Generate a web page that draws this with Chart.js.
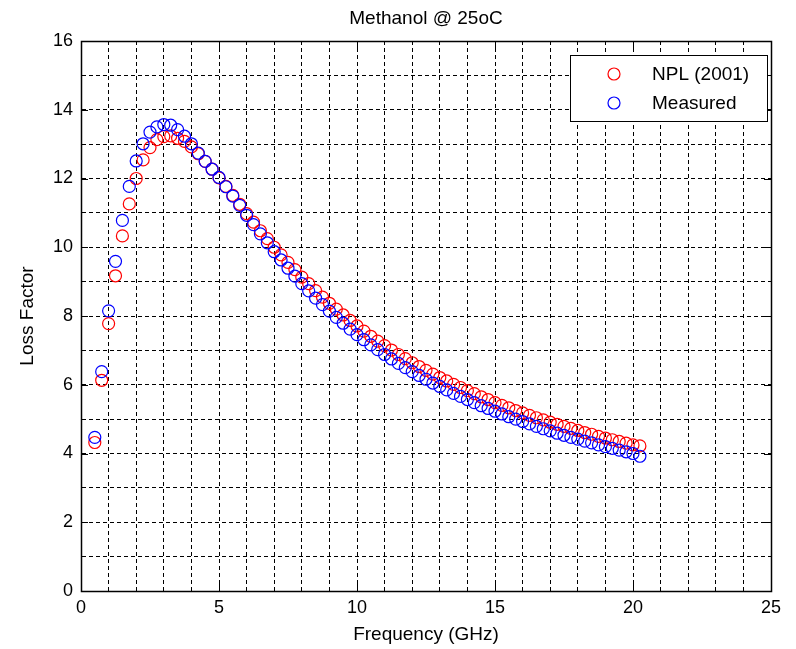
<!DOCTYPE html>
<html>
<head>
<meta charset="utf-8">
<script src="https://cdn.jsdelivr.net/npm/chart.js@4.4.1/dist/chart.umd.min.js"></script>
<style>
  html, body { margin: 0; padding: 0; background: #fff; }
</style>
</head>
<body>
<canvas id="chart" width="796" height="649"></canvas>
<script>
// frequency (GHz)
const freq = [
  0.5, 0.75, 1, 1.25, 1.5, 1.75, 2, 2.25, 2.5, 2.75,
  3, 3.25, 3.5, 3.75, 4, 4.25, 4.5, 4.75, 5, 5.25,
  5.5, 5.75, 6, 6.25, 6.5, 6.75, 7, 7.25, 7.5, 7.75,
  8, 8.25, 8.5, 8.75, 9, 9.25, 9.5, 9.75, 10, 10.25,
  10.5, 10.75, 11, 11.25, 11.5, 11.75, 12, 12.25, 12.5, 12.75,
  13, 13.25, 13.5, 13.75, 14, 14.25, 14.5, 14.75, 15, 15.25,
  15.5, 15.75, 16, 16.25, 16.5, 16.75, 17, 17.25, 17.5, 17.75,
  18, 18.25, 18.5, 18.75, 19, 19.25, 19.5, 19.75, 20, 20.25
];

// NPL (2001) loss factor
const npl = [
  4.32, 6.13, 7.78, 9.17, 10.33, 11.26, 12.0, 12.54, 12.9, 13.13,
  13.22, 13.24, 13.17, 13.08, 12.92, 12.72, 12.5, 12.27, 12.02, 11.77,
  11.51, 11.25, 10.98, 10.73, 10.48, 10.25, 10.0, 9.78, 9.56, 9.35,
  9.13, 8.94, 8.74, 8.55, 8.37, 8.2, 8.03, 7.87, 7.71, 7.56,
  7.41, 7.27, 7.14, 7.01, 6.88, 6.76, 6.64, 6.53, 6.42, 6.31,
  6.21, 6.11, 6.01, 5.92, 5.83, 5.74, 5.65, 5.57, 5.48, 5.4,
  5.33, 5.25, 5.18, 5.11, 5.04, 4.98, 4.91, 4.85, 4.79, 4.73,
  4.67, 4.61, 4.56, 4.5, 4.45, 4.4, 4.35, 4.3, 4.25, 4.22
];

// measured loss factor
const measured = [
  4.47, 6.38, 8.15, 9.59, 10.78, 11.77, 12.51, 13.01, 13.35, 13.5,
  13.57, 13.55, 13.42, 13.23, 13.01, 12.74, 12.5, 12.27, 12.03, 11.76,
  11.49, 11.22, 10.93, 10.66, 10.39, 10.13, 9.87, 9.63, 9.39, 9.16,
  8.94, 8.73, 8.52, 8.33, 8.14, 7.96, 7.79, 7.62, 7.46, 7.31,
  7.16, 7.02, 6.88, 6.75, 6.62, 6.5, 6.38, 6.27, 6.16, 6.05,
  5.95, 5.85, 5.75, 5.66, 5.57, 5.48, 5.39, 5.31, 5.23, 5.15,
  5.07, 5.0, 4.93, 4.86, 4.79, 4.72, 4.66, 4.59, 4.53, 4.47,
  4.42, 4.36, 4.31, 4.25, 4.2, 4.15, 4.1, 4.05, 4.0, 3.92
];

const xTicks = [0, 5, 10, 15, 20, 25];
const yTicks = [0, 2, 4, 6, 8, 10, 12, 14, 16];

const FONT = "'Liberation Sans', Arial, sans-serif";
Chart.defaults.font.family = FONT;
Chart.defaults.color = "#000";

// matlab style box, tick marks, legend and labels
const matlabFrame = {
  id: "matlabFrame",
  afterDatasetsDraw(chart){
    const ctx = chart.ctx;
    const a = chart.chartArea;
    const x = chart.scales.x;
    const y = chart.scales.y;

    ctx.save();
    ctx.strokeStyle = "#000";
    ctx.lineWidth = 1;
    ctx.setLineDash([]);

    ctx.beginPath();
    xTicks.forEach(v=>{
      const px = Math.round(x.getPixelForValue(v)) + 0.5;
      ctx.moveTo(px, a.bottom); ctx.lineTo(px, a.bottom - 7);
      ctx.moveTo(px, a.top); ctx.lineTo(px, a.top + 7);
    });
    yTicks.forEach(v=>{
      const py = Math.round(y.getPixelForValue(v)) + 0.5;
      ctx.moveTo(a.left, py); ctx.lineTo(a.left + 7, py);
      ctx.moveTo(a.right, py); ctx.lineTo(a.right - 7, py);
    });
    ctx.stroke();

    ctx.lineWidth = 1.5;
    ctx.strokeRect(Math.round(a.left) + 0.5, Math.round(a.top) + 0.5,
      Math.round(a.right - a.left), Math.round(a.bottom - a.top));

    // legend
    const lx = 570, ly = 55, lw = 197, lh = 66;
    ctx.fillStyle = "#fff";
    ctx.fillRect(lx, ly, lw, lh);
    ctx.lineWidth = 1;
    ctx.strokeRect(lx + 0.5, ly + 0.5, lw, lh);

    const entries = [
      {label: "NPL (2001)", color: "#ff0000", y: 74},
      {label: "Measured", color: "#0000ff", y: 103}
    ];
    ctx.font = "19px " + FONT;
    ctx.textBaseline = "middle";
    ctx.textAlign = "left";
    entries.forEach(e=>{
      ctx.beginPath();
      ctx.strokeStyle = e.color;
      ctx.lineWidth = 1.2;
      ctx.arc(614, e.y, 6, 0, Math.PI * 2);
      ctx.stroke();
      ctx.fillStyle = "#000";
      ctx.fillText(e.label, 652, e.y + 1);
    });

    // titles
    const cx = (a.left + a.right) / 2;
    ctx.fillStyle = "#000";
    ctx.textAlign = "center";
    ctx.font = "19px " + FONT;
    ctx.fillText("Methanol @ 25oC", cx, 19);
    ctx.fillText("Frequency (GHz)", cx, 635);

    ctx.translate(28, (a.top + a.bottom) / 2);
    ctx.rotate(-Math.PI / 2);
    ctx.fillText("Loss Factor", 0, 0);

    ctx.restore();
  }
};

function points(values){
  return freq.map((f, i)=>({x: f, y: values[i]}));
}

new Chart(document.getElementById("chart"), {

  type: "scatter",

  data: {
    datasets: [
      {
        label: "NPL (2001)",
        data: points(npl),
        borderColor: "#ff0000",
        backgroundColor: "rgba(0,0,0,0)",
        pointRadius: 6,
        pointBorderWidth: 1.2,
        order: 2
      },
      {
        label: "Measured",
        data: points(measured),
        borderColor: "#0000ff",
        backgroundColor: "rgba(0,0,0,0)",
        pointRadius: 6,
        pointBorderWidth: 1.2,
        order: 1
      }
    ]
  },

  options: {
    responsive: false,
    devicePixelRatio: 1,
    animation: false,
    layout: {
      padding: {left: 0, top: 41, right: 25, bottom: 0}
    },
    plugins: {
      legend: {display: false},
      tooltip: {enabled: false},
      title: {display: false}
    },
    scales: {
      x: {
        type: "linear",
        min: 0,
        max: 25,
        afterFit(scale){ scale.height = 58; },
        ticks: {
          stepSize: 1,
          autoSkip: false,
          maxRotation: 0,
          padding: 6,
          font: {size: 18},
          callback: v => xTicks.includes(v) ? String(v) : ""
        },
        grid: {color: "#000", lineWidth: 1, drawTicks: false},
        border: {display: true, color: "#000", dash: [4, 3]}
      },
      y: {
        type: "linear",
        min: 0,
        max: 16,
        afterFit(scale){ scale.width = 81; },
        ticks: {
          stepSize: 1,
          autoSkip: false,
          padding: 8,
          font: {size: 18},
          callback: v => yTicks.includes(v) ? String(v) : ""
        },
        grid: {color: "#000", lineWidth: 1, drawTicks: false},
        border: {display: true, color: "#000", dash: [4, 3]}
      }
    }
  },

  plugins: [matlabFrame]

});
</script>
</body>
</html>
